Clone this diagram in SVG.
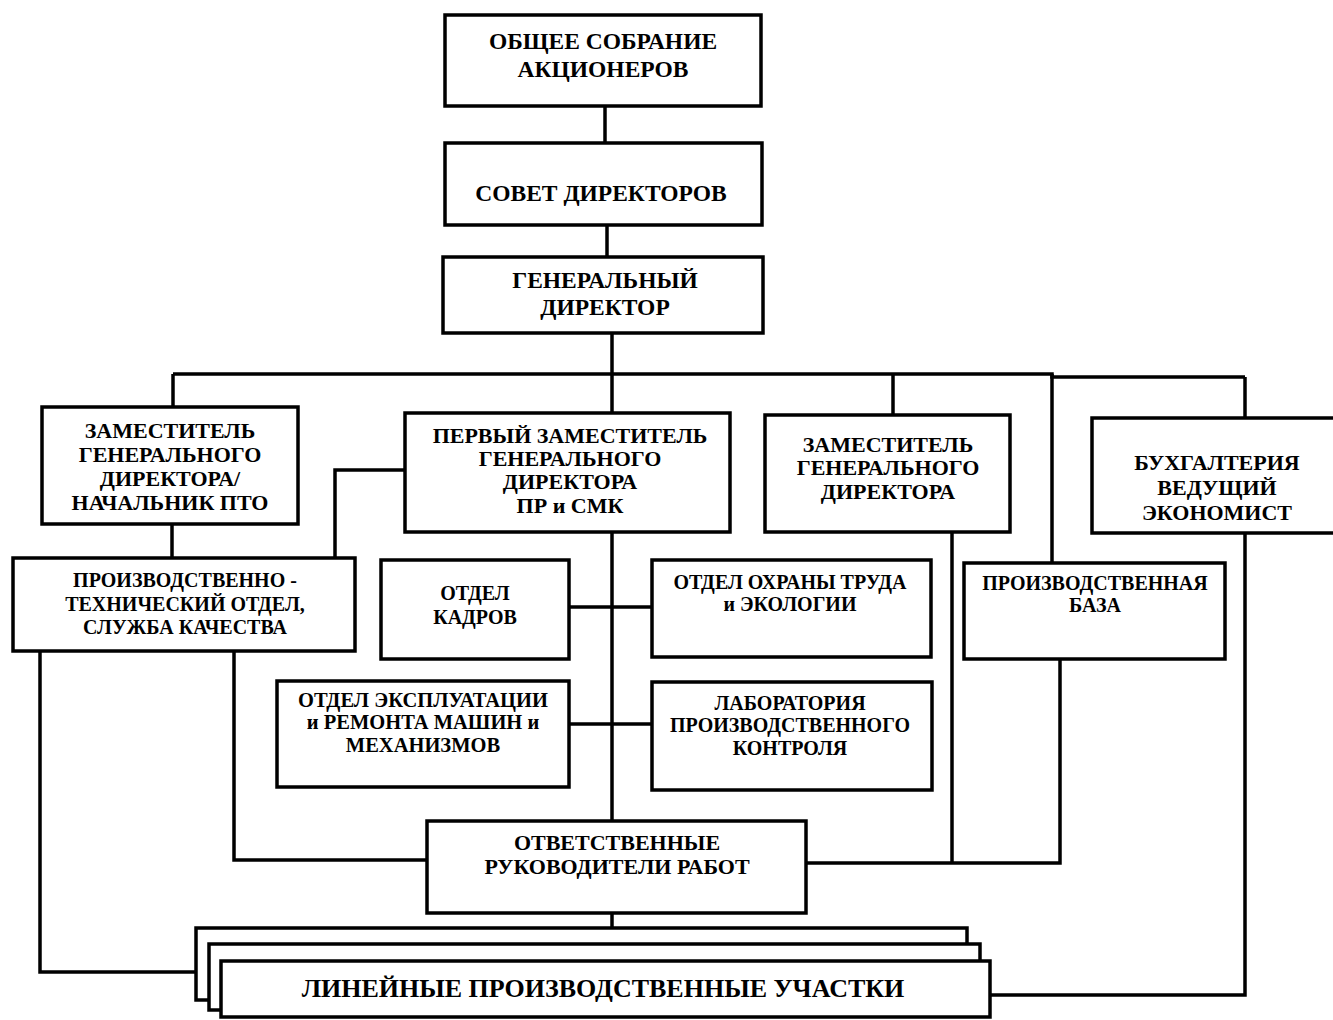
<svg xmlns="http://www.w3.org/2000/svg" width="1333" height="1020" viewBox="0 0 1333 1020">
<style>
.box{fill:#fff;stroke:#000;stroke-width:3.5}
.ln{fill:none;stroke:#000;stroke-width:3.5}
text{font-family:"Liberation Serif","Times New Roman",serif;font-weight:bold;font-size:20px;text-anchor:middle;fill:#000}
.top{font-size:23.5px}
.m{font-size:22px}
.s{font-size:20.5px}
.lg{font-size:26px}
</style>
<rect width="1333" height="1020" fill="#fff"/>
<g id="connectors">
<path class="ln" d="M605,106 V143"/>
<path class="ln" d="M607,225 V257"/>
<path class="ln" d="M612,333 V374"/>
<path class="ln" d="M173,374 H1052 V377 H1245"/>
<path class="ln" d="M173,374 V407"/>
<path class="ln" d="M612,374 V413"/>
<path class="ln" d="M893,374 V415"/>
<path class="ln" d="M1052,374 V563"/>
<path class="ln" d="M1245,377 V418"/>
<path class="ln" d="M172,524 V558"/>
<path class="ln" d="M405,470 H335 V558"/>
<path class="ln" d="M612,532 V821"/>
<path class="ln" d="M569,607 H652"/>
<path class="ln" d="M569,724 H652"/>
<path class="ln" d="M40,651 V972 H196"/>
<path class="ln" d="M234,651 V860 H427"/>
<path class="ln" d="M952,532 V863"/>
<path class="ln" d="M806,863 H1060 V659"/>
<path class="ln" d="M1245,533 V995 H990"/>
<path class="ln" d="M612,913 V928"/>
</g>
<g id="n1"><rect class="box" x="445" y="15" width="316" height="91"/><text class="top" x="603" y="49">ОБЩЕЕ СОБРАНИЕ</text><text class="top" x="603" y="77">АКЦИОНЕРОВ</text></g>
<g id="n2"><rect class="box" x="445" y="143" width="317" height="82"/><text class="top" x="601" y="201">СОВЕТ ДИРЕКТОРОВ</text></g>
<g id="n3"><rect class="box" x="443" y="257" width="320" height="76"/><text class="top" x="605" y="288">ГЕНЕРАЛЬНЫЙ</text><text class="top" x="605" y="315">ДИРЕКТОР</text></g>
<g id="n4"><rect class="box" x="42" y="407" width="256" height="117"/><text class="m" x="170" y="438">ЗАМЕСТИТЕЛЬ</text><text class="m" x="170" y="462">ГЕНЕРАЛЬНОГО</text><text class="m" x="170" y="486">ДИРЕКТОРА/</text><text class="m" x="170" y="510">НАЧАЛЬНИК ПТО</text></g>
<g id="n5"><rect class="box" x="405" y="413" width="325" height="119"/><text class="m" x="570" y="443">ПЕРВЫЙ ЗАМЕСТИТЕЛЬ</text><text class="m" x="570" y="466">ГЕНЕРАЛЬНОГО</text><text class="m" x="570" y="489">ДИРЕКТОРА</text><text class="m" x="570" y="513">ПР и СМК</text></g>
<g id="n6"><rect class="box" x="765" y="415" width="245" height="117"/><text class="m" x="888" y="452">ЗАМЕСТИТЕЛЬ</text><text class="m" x="888" y="475">ГЕНЕРАЛЬНОГО</text><text class="m" x="888" y="499">ДИРЕКТОРА</text></g>
<g id="n7"><rect class="box" x="1092" y="418" width="260" height="115"/><text class="m" x="1217" y="470">БУХГАЛТЕРИЯ</text><text class="m" x="1217" y="495">ВЕДУЩИЙ</text><text class="m" x="1217" y="520">ЭКОНОМИСТ</text></g>
<g id="n8"><rect class="box" x="13" y="558" width="342" height="93"/><text x="185" y="587">ПРОИЗВОДСТВЕННО -</text><text x="185" y="611">ТЕХНИЧЕСКИЙ ОТДЕЛ,</text><text x="185" y="634">СЛУЖБА КАЧЕСТВА</text></g>
<g id="n9"><rect class="box" x="381" y="560" width="188" height="99"/><text x="475" y="600">ОТДЕЛ</text><text x="475" y="624">КАДРОВ</text></g>
<g id="n10"><rect class="box" x="652" y="560" width="279" height="97"/><text x="790" y="589">ОТДЕЛ ОХРАНЫ ТРУДА</text><text x="790" y="611">и ЭКОЛОГИИ</text></g>
<g id="n11"><rect class="box" x="964" y="563" width="261" height="96"/><text x="1095" y="590">ПРОИЗВОДСТВЕННАЯ</text><text x="1095" y="612">БАЗА</text></g>
<g id="n12"><rect class="box" x="277" y="681" width="292" height="106"/><text class="s" x="423" y="707">ОТДЕЛ ЭКСПЛУАТАЦИИ</text><text class="s" x="423" y="729">и РЕМОНТА МАШИН и</text><text class="s" x="423" y="752">МЕХАНИЗМОВ</text></g>
<g id="n13"><rect class="box" x="652" y="682" width="280" height="108"/><text x="790" y="710">ЛАБОРАТОРИЯ</text><text x="790" y="732">ПРОИЗВОДСТВЕННОГО</text><text x="790" y="755">КОНТРОЛЯ</text></g>
<g id="n14"><rect class="box" x="427" y="821" width="379" height="92"/><text class="m" x="617" y="850">ОТВЕТСТВЕННЫЕ</text><text class="m" x="617" y="874">РУКОВОДИТЕЛИ РАБОТ</text></g>
<g id="n15">
<rect class="box" x="196" y="928" width="771" height="72"/>
<rect class="box" x="209" y="944" width="771" height="66"/>
<rect class="box" x="221" y="961" width="769" height="56"/>
<text class="lg" x="603" y="997">ЛИНЕЙНЫЕ ПРОИЗВОДСТВЕННЫЕ УЧАСТКИ</text>
</g>
</svg>
